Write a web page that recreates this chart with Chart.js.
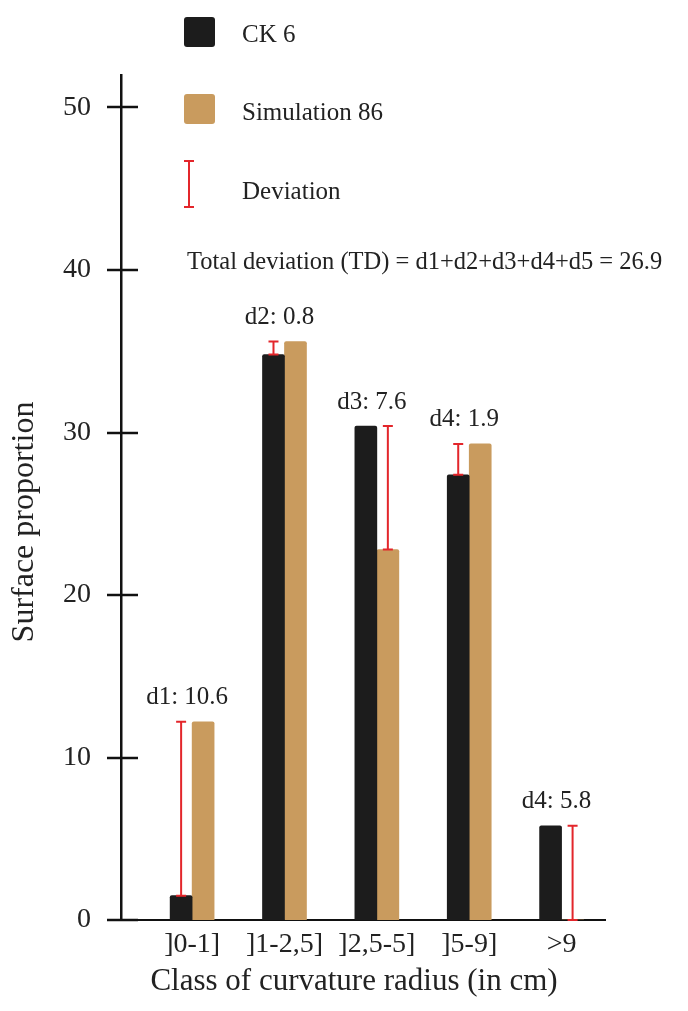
<!DOCTYPE html>
<html>
<head>
<meta charset="utf-8">
<script src="https://cdn.jsdelivr.net/npm/chart.js@4.4.1/dist/chart.umd.min.js"></script>
<style>
  html, body { margin: 0; padding: 0; background: #fff; }
  canvas { display: block; }
</style>
</head>
<body>
<canvas id="chart" width="688" height="1011"></canvas>
<script>
const categories = ["]0-1]", "]1-2,5]", "]2,5-5]", "]5-9]", ">9"];
const ck6 = [1.5, 34.8, 30.4, 27.4, 5.8];
const sim86 = [12.2, 35.6, 22.8, 29.3, 0];
const devLabels = ["d1: 10.6", "d2: 0.8", "d3: 7.6", "d4: 1.9", "d4: 5.8"];
const yTicks = [0, 10, 20, 30, 40, 50];
const legendNames = ["CK 6", "Simulation 86", "Deviation"];
const totalText = "Total deviation (TD) = d1+d2+d3+d4+d5 = 26.9";

const SERIF = '"Liberation Serif", "Times New Roman", serif';
const BLACK = "#1c1c1c";
const TAN = "#c99b5e";
const RED = "#e3262b";
const INK = "#222";

// deviation bars, labels, crossing ticks, legend and axis titles
const extras = {
  id: "extras",
  afterDatasetsDraw(chart) {
    const ctx = chart.ctx;
    const xs = chart.scales.x, ys = chart.scales.y;
    const m0 = chart.getDatasetMeta(0), m1 = chart.getDatasetMeta(1);
    ctx.save();

    // tick marks crossing the y axis
    ctx.strokeStyle = "#111";
    ctx.lineWidth = 2.5;
    yTicks.forEach(v => {
      const py = Math.round(ys.getPixelForValue(v));
      ctx.beginPath();
      ctx.moveTo(xs.left - 14, py);
      ctx.lineTo(xs.left + 17, py);
      ctx.stroke();
    });

    // red deviation bars, drawn over the shorter bar
    categories.forEach((c, i) => {
      const a = ck6[i], b = sim86[i];
      const px = (a < b ? m0 : m1).data[i].x;
      const y1 = ys.getPixelForValue(Math.min(a, b));
      const y2 = ys.getPixelForValue(Math.max(a, b));
      ctx.strokeStyle = RED;
      ctx.lineWidth = 2;
      ctx.beginPath();
      ctx.moveTo(px, y1); ctx.lineTo(px, y2);
      ctx.moveTo(px - 5, y1); ctx.lineTo(px + 5, y1);
      ctx.moveTo(px - 5, y2); ctx.lineTo(px + 5, y2);
      ctx.stroke();

      ctx.fillStyle = INK;
      ctx.font = "25px " + SERIF;
      ctx.textAlign = "center";
      ctx.textBaseline = "middle";
      ctx.fillText(devLabels[i], xs.getPixelForValue(i) - 5, y2 - 24);
    });

    // legend
    ctx.fillStyle = BLACK;
    ctx.beginPath(); ctx.roundRect(184, 17, 31, 30, 3); ctx.fill();
    ctx.fillStyle = TAN;
    ctx.beginPath(); ctx.roundRect(184, 94, 31, 30, 3); ctx.fill();
    ctx.strokeStyle = RED;
    ctx.lineWidth = 2;
    ctx.beginPath();
    ctx.moveTo(189, 161); ctx.lineTo(189, 207);
    ctx.moveTo(184, 161); ctx.lineTo(194, 161);
    ctx.moveTo(184, 207); ctx.lineTo(194, 207);
    ctx.stroke();

    ctx.fillStyle = INK;
    ctx.font = "25px " + SERIF;
    ctx.textAlign = "left";
    ctx.textBaseline = "middle";
    ctx.fillText(legendNames[0], 242, 35);
    ctx.fillText(legendNames[1], 242, 113);
    ctx.fillText(legendNames[2], 242, 192);
    ctx.font = "24.5px " + SERIF;
    ctx.fillText(totalText, 187, 263);

    // axis titles
    ctx.textAlign = "center";
    ctx.font = "31px " + SERIF;
    ctx.fillText("Class of curvature radius (in cm)", 354, 982);
    ctx.translate(25, 522);
    ctx.rotate(-Math.PI / 2);
    ctx.font = "32px " + SERIF;
    ctx.fillText("Surface proportion", 0, 0);

    ctx.restore();
  }
};

new Chart(document.getElementById("chart"), {
  type: "bar",
  data: {
    datasets: [
      {
        label: "CK 6",
        data: ck6.map((v, i) => ({ x: i, y: v })),
        backgroundColor: BLACK,
        borderRadius: 2,
        borderSkipped: "bottom",
      },
      {
        label: "Simulation 86",
        data: sim86.map((v, i) => ({ x: i, y: v })),
        backgroundColor: TAN,
        borderRadius: 2,
        borderSkipped: "bottom",
      },
    ],
  },
  options: {
    responsive: false,
    animation: false,
    barThickness: 22,
    layout: { padding: { top: 75, right: 83, left: 0, bottom: 0 } },
    plugins: {
      legend: { display: false },
      tooltip: { enabled: false },
    },
    scales: {
      x: {
        type: "linear",
        offset: false,
        min: -0.77,
        max: 4.47,
        afterFit: s => { s.height = 91; },
        afterBuildTicks: s => { s.ticks = categories.map((c, i) => ({ value: i })); },
        grid: { display: false, drawTicks: false },
        border: { display: true, color: "#111", width: 2 },
        ticks: {
          autoSkip: false,
          maxRotation: 0,
          padding: 8,
          color: INK,
          font: { family: SERIF, size: 28 },
          callback: v => categories[v],
        },
      },
      y: {
        min: 0,
        max: 52,
        afterFit: s => { s.width = 121; },
        afterBuildTicks: s => { s.ticks = yTicks.map(v => ({ value: v })); },
        grid: { display: false, drawTicks: false },
        border: { display: true, color: "#111", width: 2.5 },
        ticks: {
          padding: 30,
          color: INK,
          font: { family: SERIF, size: 28 },
        },
      },
    },
  },
  plugins: [extras],
});
</script>
</body>
</html>
